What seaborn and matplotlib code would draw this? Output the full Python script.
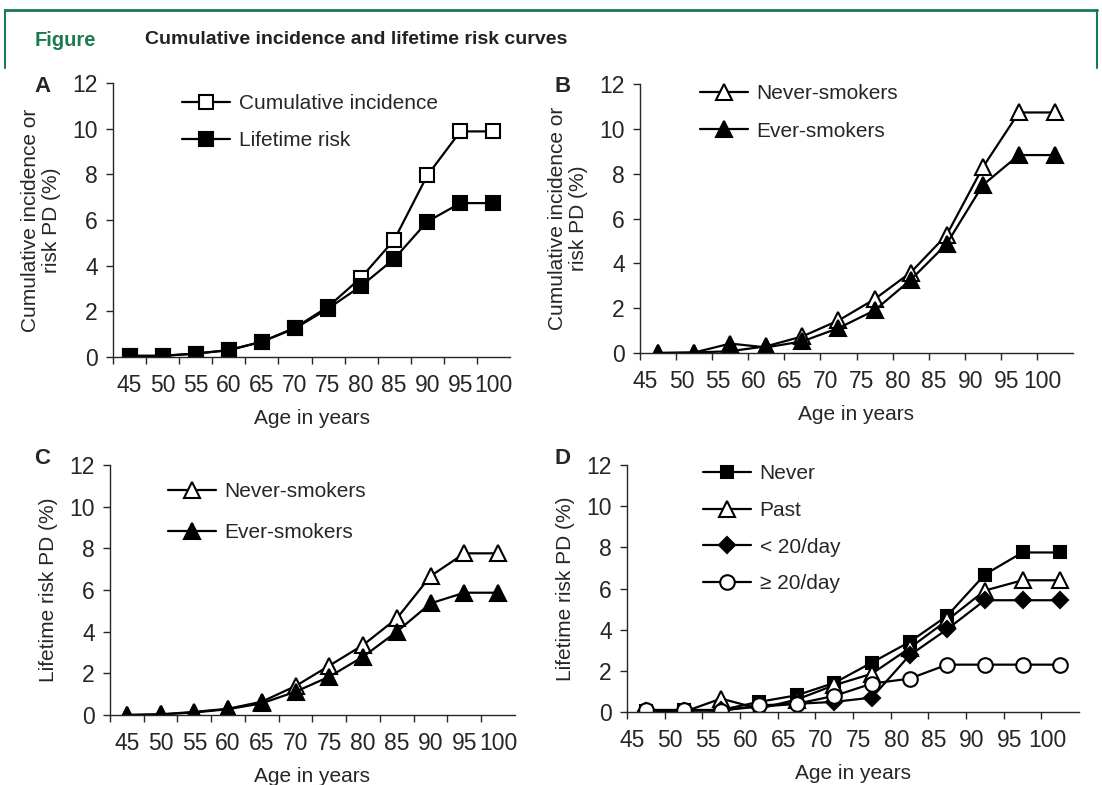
import numpy as np
import matplotlib.pyplot as plt
import seaborn as sns
from matplotlib.lines import Line2D

# age groups (x axis)
ages = [45, 50, 55, 60, 65, 70, 75, 80, 85, 90, 95, 100]

# A: cumulative incidence vs lifetime risk
a_cum = [0.05, 0.05, 0.15, 0.3, 0.67, 1.28, 2.2, 3.48, 5.13, 7.95, 9.88, 9.88]
a_life = [0.05, 0.05, 0.15, 0.3, 0.67, 1.25, 2.12, 3.11, 4.3, 5.93, 6.74, 6.74]

# B: cumulative incidence by smoking
b_never = [0.0, 0.02, 0.08, 0.3, 0.74, 1.45, 2.4, 3.59, 5.27, 8.28, 10.73, 10.73]
b_ever = [0.0, 0.02, 0.42, 0.25, 0.52, 1.11, 1.9, 3.26, 4.87, 7.49, 8.83, 8.83]

# C: lifetime risk by smoking
c_never = [0.0, 0.03, 0.15, 0.3, 0.64, 1.39, 2.37, 3.36, 4.64, 6.67, 7.76, 7.76]
c_ever = [0.0, 0.03, 0.12, 0.28, 0.56, 1.12, 1.84, 2.8, 4.0, 5.36, 5.87, 5.87]

# D: lifetime risk by smoking category
d_never = [0.05, 0.1, 0.1, 0.49, 0.81, 1.41, 2.4, 3.4, 4.67, 6.68, 7.75, 7.75]
d_past = [0.0, 0.0, 0.65, 0.16, 0.6, 1.3, 1.86, 3.1, 4.46, 5.9, 6.4, 6.4]
d_lt20 = [0.05, 0.05, 0.1, 0.25, 0.4, 0.49, 0.7, 2.75, 4.02, 5.43, 5.43, 5.43]
d_ge20 = [0.1, 0.1, 0.05, 0.32, 0.4, 0.78, 1.38, 1.62, 2.3, 2.3, 2.3, 2.3]

sns.set_style('ticks')
plt.rcParams['font.family'] = ['Liberation Sans', 'DejaVu Sans']

W, H = 1102, 785
fig = plt.figure(figsize=(W / 100, H / 100), dpi=100)
green = '#1b7a52'


def px_axes(x0, x1, y_top, y_bot):
    return fig.add_axes([x0 / W, 1 - y_bot / H, (x1 - x0) / W, (y_bot - y_top) / H])


def draw(ax, series, centered, ylabel, letter, letter_xy, leg_anchor, leg_space):
    idx = np.arange(len(ages))
    for vals, lab, mk, ms, filled in series:
        sns.lineplot(x=idx, y=vals, ax=ax, color='black', lw=1.6, marker=mk,
                     markersize=ms, mfc='black' if filled else 'white',
                     mec='black', mew=1.5, label=lab)
    ax.set_xlim(-0.5, len(ages) - 0.5)
    ax.set_ylim(0, 12)
    ax.set_yticks(range(0, 13, 2))
    ax.set_xticks(idx - 0.5, minor=True)
    ax.tick_params(axis='x', which='minor', length=5, width=1, direction='out')
    if centered:
        ax.set_xticks(idx)
    else:
        ax.set_xticks(idx - 0.35)
    ax.set_xticklabels([str(a) for a in ages], fontsize=16.5)
    ax.tick_params(axis='x', which='major', length=0, pad=12)
    ax.tick_params(axis='y', length=5, width=1, labelsize=16.5, pad=6)
    ax.set_xlabel('Age in years', fontsize=15, labelpad=9)
    ax.set_ylabel(ylabel, fontsize=15, labelpad=8, linespacing=1.15)
    sns.despine(ax=ax)
    for s in ['left', 'bottom']:
        ax.spines[s].set_linewidth(1)
    ax.legend(loc='upper left', bbox_to_anchor=(leg_anchor[0] / W, 1 - leg_anchor[1] / H),
              bbox_transform=fig.transFigure, frameon=False, fontsize=15,
              handlelength=2.3, handletextpad=0.4, labelspacing=leg_space, borderaxespad=0)
    fig.text(letter_xy[0] / W, 1 - letter_xy[1] / H, letter, fontsize=16,
             fontweight='bold', ha='left', va='center')


axA = px_axes(113, 510, 83, 357)
draw(axA, [(a_cum, 'Cumulative incidence', 's', 9.5, False),
           (a_life, 'Lifetime risk', 's', 9.5, True)],
     True, 'Cumulative incidence or\nrisk PD (%)', 'A', (34, 86), (174, 86), 0.85)

axB = px_axes(640, 1073, 84, 353)
draw(axB, [(b_never, 'Never-smokers', '^', 11, False),
           (b_ever, 'Ever-smokers', '^', 11, True)],
     False, 'Cumulative incidence or\nrisk PD (%)', 'B', (555, 86), (692, 76), 0.88)

axC = px_axes(110, 515, 465, 715)
draw(axC, [(c_never, 'Never-smokers', '^', 11, False),
           (c_ever, 'Ever-smokers', '^', 11, True)],
     True, 'Lifetime risk PD (%)', 'C', (34, 458), (160, 474), 1.05)

axD = px_axes(627, 1079, 465, 712)
draw(axD, [(d_never, 'Never', 's', 9, True),
           (d_past, 'Past', '^', 11, False),
           (d_lt20, '< 20/day', 'D', 8.5, True),
           (d_ge20, '≥ 20/day', 'o', 10.5, False)],
     False, 'Lifetime risk PD (%)', 'D', (555, 458), (695, 456), 0.85)

# header frame and title
fig.add_artist(Line2D([5 / W, 1097 / W], [1 - 10 / H, 1 - 10 / H], transform=fig.transFigure,
                      color=green, lw=2))
fig.add_artist(Line2D([5 / W, 5 / W], [1 - 10 / H, 1 - 68 / H], transform=fig.transFigure,
                      color=green, lw=1.5))
fig.add_artist(Line2D([1097 / W, 1097 / W], [1 - 10 / H, 1 - 68 / H], transform=fig.transFigure,
                      color=green, lw=1.5))
fig.text(35 / W, 1 - 40 / H, 'Figure', color=green, fontsize=14.5, fontweight='bold',
         va='center')
fig.text(145 / W, 1 - 40 / H, 'Cumulative incidence and lifetime risk curves', color='#222222',
         fontsize=14, fontweight='bold', va='center')

fig.savefig('out.png', dpi=100, facecolor='white')
